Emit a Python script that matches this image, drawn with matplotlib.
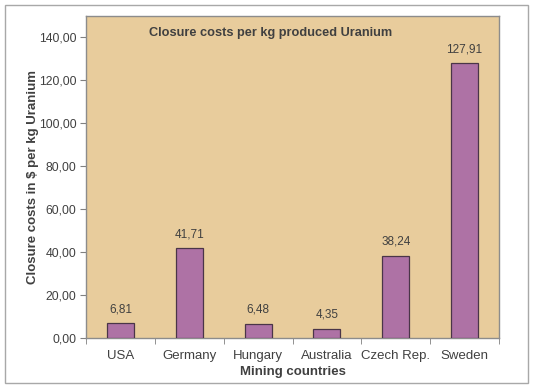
import matplotlib
matplotlib.use("Agg")
import matplotlib.pyplot as plt
from matplotlib.patches import Rectangle
from matplotlib.ticker import FuncFormatter, FixedLocator

countries = ["USA", "Germany", "Hungary", "Australia", "Czech Rep.", "Sweden"]
costs = [6.81, 41.71, 6.48, 4.35, 38.24, 127.91]
yticks = [0, 20, 40, 60, 80, 100, 120, 140]

plt.rcParams['font.family'] = ['Liberation Sans', 'DejaVu Sans']
txt = '#404040'

fig = plt.figure(figsize=(5.35, 3.89), dpi=100)
fig.patch.set_facecolor('white')
fig.patches.append(Rectangle((5/535, 1-383/389), 523/535, 378/389, transform=fig.transFigure,
                             fill=False, edgecolor='#a8a8a8', linewidth=1.0))

ax = fig.add_axes([86/535, 1-338/389, 413/535, 322/389])
ax.set_facecolor('#E8CC9C')
x = list(range(len(countries)))
ax.bar(x, costs, width=0.39, color='#AE72A5', edgecolor='#4a3548', linewidth=0.9, zorder=3)
for xi, v in zip(x, costs):
    ax.annotate(f"{v:.2f}".replace('.', ','), (xi, v), xytext=(0, 6), textcoords='offset points',
                ha='center', va='bottom', fontsize=8.5, color=txt)

ax.set_xlim(-0.5, len(countries)-0.5)
ax.set_ylim(0, 150)
ax.set_yticks(yticks)
ax.yaxis.set_major_formatter(FuncFormatter(lambda v, p: f"{v:.2f}".replace('.', ',')))
ax.set_xticks(x)
ax.set_xticklabels(countries)
ax.xaxis.set_minor_locator(FixedLocator([i - 0.5 for i in range(len(countries)+1)]))
ax.tick_params(axis='x', which='major', length=0, pad=8.5, labelsize=9.5, labelcolor=txt)
ax.tick_params(axis='x', which='minor', length=4, color='#808080', direction='out')
ax.tick_params(axis='y', length=4, color='#808080', labelsize=8.8, labelcolor=txt, pad=3)
for s in ax.spines.values():
    s.set_color('#8c8c8c')
    s.set_linewidth(1.0)

ax.set_xlabel("Mining countries", fontsize=9.5, fontweight='bold', color=txt, labelpad=3)
ax.set_ylabel("Closure costs in $ per kg Uranium", fontsize=9.5, fontweight='bold', color=txt, labelpad=0)
ax.text((149-86)/413, (338-33)/322, "Closure costs per kg produced Uranium", transform=ax.transAxes,
        fontsize=9.2, fontweight='bold', color=txt, ha='left', va='center')

fig.savefig("out.png", dpi=100)
